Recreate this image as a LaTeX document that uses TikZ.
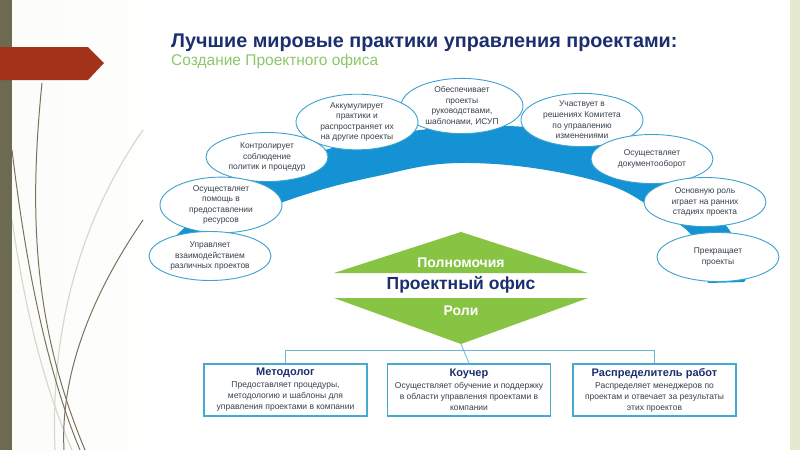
\documentclass[tikz,border=0pt]{standalone}
\usepackage{fontspec}
\setmainfont{Liberation Sans}
\usetikzlibrary{shapes.geometric}
\definecolor{navy}{HTML}{1B2F6E}
\definecolor{subgreen}{HTML}{8CC86A}
\definecolor{inktext}{HTML}{36414C}
\definecolor{bandblue}{HTML}{1592D4}
\definecolor{bubbleline}{HTML}{3DA2CE}
\definecolor{boxline}{HTML}{45A9D0}
\definecolor{wireline}{HTML}{6BB6D2}
\definecolor{leafgreen}{HTML}{88C443}
\definecolor{stripolive}{HTML}{6D6A52}
\definecolor{arrowred}{HTML}{A2321A}
\definecolor{sidegreen}{HTML}{E3EACF}
\definecolor{grassdark}{HTML}{7A735A}
\definecolor{grasslight}{HTML}{D6DACB}
\newcommand{\bubble}[4]{\node[bubble] (#1) at (#2,#3) {#4};}
\newcommand{\rolebox}[5]{\node[rolebox] (#1) at (#2,#3)
  {{\bfseries\color{navy}\fontsize{11}{12}\selectfont #4}\\[1pt] #5};}

\begin{document}
\begin{tikzpicture}[x=1pt,y=-1pt,
  bubble/.style={ellipse, draw=bubbleline, line width=0.9pt, fill=white,
    minimum width=122pt, minimum height=49pt, inner sep=0pt, align=center,
    text=inktext, font=\fontsize{8.4}{10.6}\selectfont},
  rolebox/.style={rectangle, draw=boxline, line width=1.6pt, fill=white,
    minimum width=163pt, minimum height=52pt, inner sep=1pt, align=center,
    text=inktext, font=\fontsize{8.5}{11}\selectfont},
  wire/.style={draw=wireline, line width=0.8pt},
  grass/.style={draw=grassdark, line width=1pt},
  grasspale/.style={draw=grasslight, line width=1.2pt}]
  \useasboundingbox (0,0) rectangle (800,450);

  % Slide background
  % ----------------
  \fill[white] (0,0) rectangle (800,450);
  \shade[left color=white!88!sidegreen, right color=white!96!sidegreen] (12,0) rectangle (145,450);
  \fill[sidegreen] (790,0) rectangle (800,450);

  \draw[grasspale] (143,130) .. controls (80,220) and (50,330) .. (55,450);
  \draw[grasspale] (12,220) .. controls (28,330) and (50,400) .. (72,450);
  \draw[grass] (42,83) .. controls (28,220) and (35,330) .. (85,450);
  \draw[grass] (12,150) .. controls (30,300) and (55,390) .. (80,450);
  \draw[grass] (143,220) .. controls (95,290) and (60,370) .. (64,450);

  \fill[stripolive] (0,0) rectangle (12,450);
  \fill[arrowred] (0,47) -- (88,47) -- (104,63) -- (88,80) -- (0,80) -- cycle;

  % Title
  % -----
  \node[anchor=west, inner sep=0pt, text=navy, font=\fontsize{19.8}{22}\bfseries\selectfont]
    (title) at (171,43) {Лучшие мировые практики управления проектами:};
  \node[anchor=west, inner sep=0pt, text=subgreen, font=\fontsize{15.5}{17}\selectfont]
    (subtitle) at (171,61) {Создание Проектного офиса};

  % Functions (arc)
  % ---------------
  \fill[bandblue] plot[smooth, tension=0.7] coordinates {(160,252) (200,215) (260,178)
      (340,146) (470,126) (600,138) (670,172) (718,215) (746,262) (744,282)}
    -- plot[smooth, tension=0.7] coordinates {(708,283) (695,240) (660,213) (593,180)
      (470,163) (373,177) (283,202) (215,232) (160,252)} -- cycle;

  \bubble{ruk}{462}{106}{Обеспечивает\\проекты\\руководствами,\\шаблонами, ИСУП}
  \bubble{akk}{357}{122}{Аккумулирует\\практики и\\распространяет их\\на другие проекты}
  \bubble{kontr}{267}{157}{Контролирует\\соблюдение\\политик и процедур}
  \bubble{resurs}{221}{205}{Осуществляет\\помощь в\\предоставлении\\ресурсов}
  \bubble{vzaim}{210}{256}{Управляет\\взаимодействием\\различных проектов}
  \bubble{komit}{582}{120}{Участвует в\\решениях Комитета\\по управлению\\изменениями}
  \bubble{dok}{652}{159}{Осуществляет\\документооборот}
  \bubble{stadii}{705}{202}{Основную роль\\играет на ранних\\стадиях проекта}
  \bubble{stop}{718}{257}{Прекращает\\проекты}

  % Office
  % ------
  \fill[leafgreen] (334,273) -- (461,232) -- (588,273) -- cycle;
  \fill[leafgreen] (334,298) -- (588,298) -- (461,344) -- cycle;
  \coordinate (rolestip) at (461,344);

  \node[text=white, font=\fontsize{14}{16}\bfseries\selectfont] (power) at (461,263) {Полномочия};
  \node[text=navy, font=\fontsize{17.5}{20}\bfseries\selectfont] (office) at (461,285) {Проектный офис};
  \node[text=white, font=\fontsize{14}{16}\bfseries\selectfont] (roles) at (461,311) {Роли};

  % Roles
  % -----
  \rolebox{metod}{285.5}{390}{Методолог}{Предоставляет процедуры,\\методологию и шаблоны для\\управления проектами в компании}
  \rolebox{coach}{469}{390}{Коучер}{Осуществляет обучение и поддержку\\в области управления проектами в\\компании}
  \rolebox{dist}{654.5}{390}{Распределитель работ}{Распределяет менеджеров по\\проектам и отвечает за результаты\\этих проектов}

  \coordinate (bus) at (0,350);
  \draw[wire] (metod.north) -- (metod.north |- bus) -- (dist.north |- bus) -- (dist.north);
  \draw[wire] (rolestip) -- (coach.north);
\end{tikzpicture}
\end{document}
